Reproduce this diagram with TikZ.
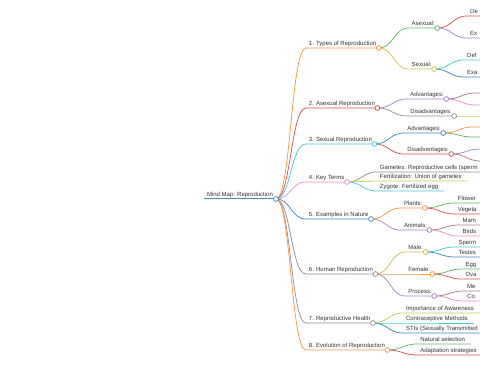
\documentclass[tikz,border=0pt]{standalone}
\usepackage{fontspec}
\setmainfont{Liberation Sans}
\usetikzlibrary{calc}
\definecolor{bblue}{HTML}{1F77B4}
\definecolor{borange}{HTML}{FF7F0E}
\definecolor{bgreen}{HTML}{2CA02C}
\definecolor{bred}{HTML}{D62728}
\definecolor{bpurple}{HTML}{9467BD}
\definecolor{bbrown}{HTML}{8C564B}
\definecolor{bpink}{HTML}{E377C2}
\definecolor{bgray}{HTML}{7F7F7F}
\definecolor{bolive}{HTML}{BCBD22}
\definecolor{bcyan}{HTML}{17BECF}
\colorlet{cblue}{bblue!85!white}
\colorlet{corange}{borange!80!white}
\colorlet{cgreen}{bgreen!75!white}
\colorlet{cred}{bred!80!white}
\colorlet{cpurple}{bpurple!80!white}
\colorlet{cbrown}{bbrown!75!white}
\colorlet{cpink}{bpink!80!white}
\colorlet{cgray}{bgray!85!white}
\colorlet{colive}{bolive!80!white}
\colorlet{ccyan}{bcyan!80!white}
\definecolor{mmtxt}{HTML}{333333}
\tikzset{
  mmtext/.style={inner sep=0pt, outer sep=0pt, font=\fontsize{6}{7}\selectfont, text=mmtxt},
  mmline/.style={line width=0.75pt},
  mmdotstyle/.style={line width=0.75pt, fill=white},
}
\newcommand\mmchild[5]{%
  \coordinate (tmp) at ($(#1)+(30,0)$);
  \coordinate (#2s) at (tmp |- 0,#4);
  \node[mmtext, anchor=base west] (#2t) at ($(#2s)+(3,-2.2)$) {#5};
  \coordinate (#2) at ($(#2t.east |- #2s)+(2.5,0)$);
  \draw[#3, mmline] let \p1=(#1), \p2=(#2s) in (\p1) .. controls ({(\x1+\x2)/2},\y1) and ({(\x1+\x2)/2},\y2) .. (\p2) -- (#2);
}
\newcommand\mmleaf[5]{%
  \coordinate (tmp) at ($(#1)+(30,0)$);
  \coordinate (#2s) at (tmp |- 0,#4);
  \node[mmtext, anchor=base west] (#2t) at ($(#2s)+(3,-2.2)$) {#5};
  \coordinate (#2) at ($(#2t.east |- #2s)+(6,0)$);
  \draw[#3, mmline] let \p1=(#1), \p2=(#2s) in (\p1) .. controls ({(\x1+\x2)/2},\y1) and ({(\x1+\x2)/2},\y2) .. (\p2) -- (#2);
}
\newcommand\mmdot[2]{\draw[#2, mmdotstyle] (#1) circle (2.4pt);}
\begin{document}
\begin{tikzpicture}[x=1pt,y=-1pt]
\useasboundingbox (0,0) rectangle (480,379);
\fill[white] (0,0) rectangle (480,379);
\clip (0,0) rectangle (480,379);
% root
\coordinate (Rs) at (204,199);
\node[mmtext, anchor=base west] (Rt) at (207,196.8) {Mind Map: Reproduction};
\coordinate (R) at ($(Rt.east |- Rs)+(3,0)$);
\draw[cblue, line width=1pt] (Rs) -- (R);
% level 1
\mmchild{R}{A}{corange}{48}{1. Types of Reproduction}
\mmchild{R}{B}{cred}{108}{2. Asexual Reproduction}
\mmchild{R}{C}{ccyan}{144}{3. Sexual Reproduction}
\mmchild{R}{D}{cpink}{182}{4. Key Terms}
\mmchild{R}{E}{cblue}{219}{5. Examples in Nature}
\mmchild{R}{F}{cgray}{274}{6. Human Reproduction}
\mmchild{R}{G}{cgray}{323}{7. Reproductive Health}
\mmchild{R}{H}{corange}{350}{8. Evolution of Reproduction}
% level 2
\mmchild{A}{A1}{cgreen}{28}{Asexual:}
\mmchild{A}{A2}{colive}{69}{Sexual:}
\mmchild{B}{B1}{cpurple}{99}{Advantages:}
\mmchild{B}{B2}{cgray}{116}{Disadvantages:}
\mmchild{C}{C1}{cblue}{133}{Advantages:}
\mmchild{C}{C2}{cred}{154}{Disadvantages:}
\mmleaf{D}{D1}{cgray}{172}{Gametes: Reproductive cells (sperm}
\mmleaf{D}{D2}{colive}{181}{Fertilization: Union of gametes}
\mmleaf{D}{D3}{ccyan}{191}{Zygote: Fertilized egg}
\mmchild{E}{E1}{corange}{208}{Plants:}
\mmchild{E}{E2}{cpurple}{230}{Animals:}
\mmchild{F}{F1}{colive}{252}{Male:}
\mmchild{F}{F2}{corange}{274}{Female:}
\mmchild{F}{F3}{cpurple}{296}{Process:}
\mmleaf{G}{G1}{colive}{313}{Importance of Awareness}
\mmleaf{G}{G2}{ccyan}{323}{Contraceptive Methods}
\mmleaf{G}{G3}{cblue}{333}{STIs (Sexually Transmitted}
\mmleaf{H}{H1}{cgreen}{344}{Natural selection}
\mmleaf{H}{H2}{cred}{355}{Adaptation strategies}
% level 3
\mmleaf{A1}{A11}{cred}{16}{De}
\mmleaf{A1}{A12}{cpurple}{38}{Ex}
\mmleaf{A2}{A21}{ccyan}{60}{Def}
\mmleaf{A2}{A22}{cblue}{77}{Exa}
\mmleaf{B1}{B11}{cbrown}{93}{}
\mmleaf{B1}{B12}{cpink}{105}{}
\mmleaf{B2}{B21}{colive}{116}{}
\mmleaf{C1}{C11}{corange}{127}{}
\mmleaf{C1}{C12}{cgreen}{137}{}
\mmleaf{C2}{C21}{cpurple}{149}{}
\mmleaf{C2}{C22}{cbrown}{161}{}
\mmleaf{E1}{E11}{cgreen}{203}{Flower}
\mmleaf{E1}{E12}{cred}{214}{Vegeta}
\mmleaf{E2}{E21}{cbrown}{225}{Mam}
\mmleaf{E2}{E22}{cpink}{236}{Birds}
\mmleaf{F1}{F11}{ccyan}{247}{Sperm}
\mmleaf{F1}{F12}{cblue}{257}{Testes}
\mmleaf{F2}{F21}{cgreen}{269}{Egg}
\mmleaf{F2}{F22}{cred}{279}{Ova}
\mmleaf{F3}{F31}{cbrown}{291}{Me}
\mmleaf{F3}{F32}{cpink}{301}{Co}
% circles
\mmdot{R}{cblue}
\mmdot{A}{corange}\mmdot{B}{cred}\mmdot{C}{ccyan}\mmdot{D}{cpink}
\mmdot{E}{cblue}\mmdot{F}{cgray}\mmdot{G}{cgray}\mmdot{H}{corange}
\mmdot{A1}{cgreen}\mmdot{A2}{colive}\mmdot{B1}{cpurple}\mmdot{B2}{cgray}
\mmdot{C1}{cblue}\mmdot{C2}{cred}\mmdot{E1}{corange}\mmdot{E2}{cpurple}
\mmdot{F1}{colive}\mmdot{F2}{corange}\mmdot{F3}{cpurple}
\end{tikzpicture}
\end{document}
